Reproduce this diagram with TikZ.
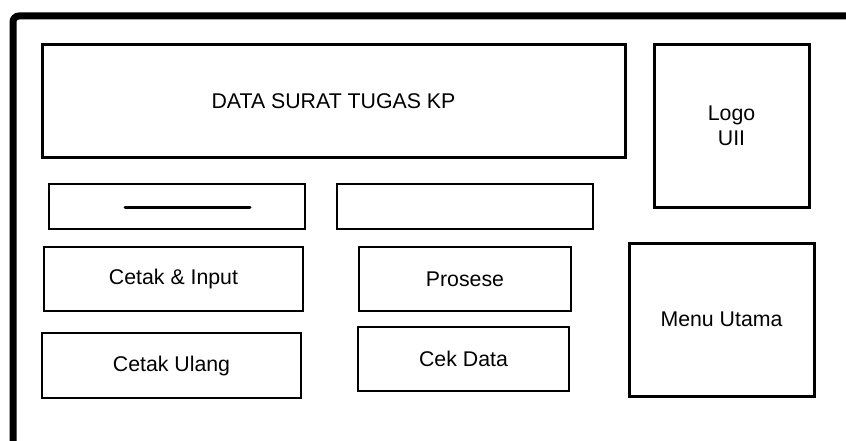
\documentclass[tikz,border=0pt]{standalone}
\usepackage{fontspec}
\setmainfont{Liberation Sans}
\begin{document}
\begin{tikzpicture}[x=1pt,y=-1pt,
  box/.style={draw=black, inner sep=0pt, align=center, font=\fontsize{21.3}{24.5}\selectfont},
  heavybox/.style={box, line width=3pt},
  lightbox/.style={box, line width=1.2pt},
  frameline/.style={line width=7pt, rounded corners=6pt}]
\useasboundingbox (0,0) rectangle (846,441);
\clip (0,0) rectangle (846,441);
\coordinate (f1) at (13,460);
\coordinate (f2) at (13,16);
\coordinate (f3) at (870,16);
\draw[frameline] (f1) -- (f2) -- (f3);
\node[heavybox, minimum width=583pt, minimum height=113pt] (title) at (333.5,101.5) {DATA SURAT TUGAS KP};
\node[heavybox, minimum width=155pt, minimum height=162pt] (logo) at (731.5,126) {Logo\\UII};
\node[heavybox, minimum width=185pt, minimum height=153pt] (menu) at (721.5,319.5) {Menu Utama};
\node[lightbox, minimum width=256pt, minimum height=45pt] (field1) at (177,206.5) {};
\node[lightbox, minimum width=256pt, minimum height=45pt] (field2) at (465,206.5) {};
\coordinate (l1) at (125,207);
\coordinate (l2) at (250,207);
\draw[line width=3pt, line cap=round] (l1) -- (l2);
\node[lightbox, minimum width=259pt, minimum height=64pt] (cetak) at (173.5,279) {Cetak \& Input};
\node[lightbox, minimum width=212pt, minimum height=64pt] (prosese) at (465,279) {Prosese};
\node[lightbox, minimum width=259pt, minimum height=65pt] (ulang) at (171.5,365.5) {Cetak Ulang};
\node[lightbox, minimum width=211pt, minimum height=64pt] (cek) at (463.5,359) {Cek Data};
\end{tikzpicture}
\end{document}
